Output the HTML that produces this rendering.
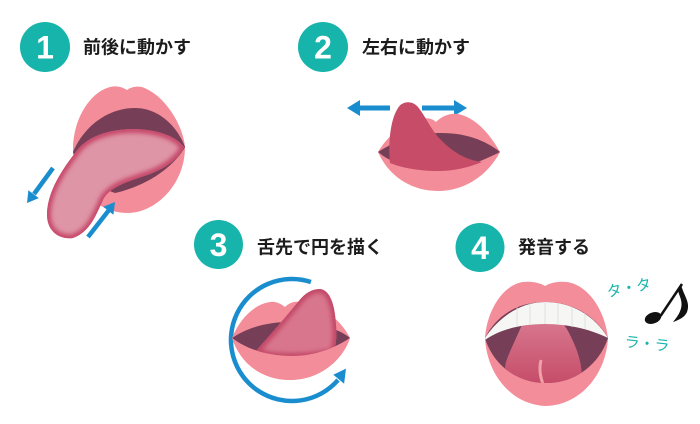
<!DOCTYPE html>
<html><head><meta charset="utf-8"><style>
html,body{margin:0;padding:0;background:#fff;}
svg{display:block;}
.t{font-family:"Liberation Sans","Noto Sans CJK JP",sans-serif;font-size:18px;fill:#1c1c1c;font-weight:bold;}
.n{font-family:"Liberation Sans",sans-serif;font-weight:bold;font-size:32px;fill:#fff;}
.k{font-family:"Liberation Sans","Noto Sans CJK JP",sans-serif;font-size:15px;fill:#17b4ab;}
</style></head><body>
<svg width="700" height="424" viewBox="0 0 700 424" xmlns="http://www.w3.org/2000/svg">
<defs>
<filter id="b3" x="-20%" y="-20%" width="140%" height="140%"><feGaussianBlur stdDeviation="2"/></filter>
<filter id="b2" x="-20%" y="-20%" width="140%" height="140%"><feGaussianBlur stdDeviation="2"/></filter>
<clipPath id="ct1"><path d="M 75,153 C 85,138 105,130 130,129 C 155,129 175,135 184,147 C 178,160 165,168 150,174 C 130,181 110,186 103,200 C 96,215 90,232 73,238 C 58,240 47,230 47,215 C 47,195 58,175 75,153 Z"/></clipPath>
<clipPath id="ct3"><path d="M 255,352 C 270,335 285,318 298,302 C 305,293 312,289 320,289 C 330,290 335,305 336,325 C 337,335 336,345 334,352 C 315,357 290,358 270,356 Z"/></clipPath>
<clipPath id="ci4"><path d="M 485,338 C 495,318 515,302 545,302 C 575,302 597,318 608,338 C 600,362 578,383 546,383 C 514,383 492,362 485,338 Z"/></clipPath>
<linearGradient id="g4" x1="0" y1="0" x2="0" y2="1"><stop offset="0" stop-color="#d8788f"/><stop offset="1" stop-color="#c54b68"/></linearGradient>
</defs>

<!-- headings -->
<circle cx="45" cy="47" r="25" fill="#17b4ab"/>
<text class="n" x="45" y="58.5" text-anchor="middle">1</text>
<text class="t" x="83" y="53.5">前後に動かす</text>

<circle cx="323" cy="47" r="25" fill="#17b4ab"/>
<text class="n" x="323" y="58.5" text-anchor="middle">2</text>
<text class="t" x="362" y="53.5">左右に動かす</text>

<circle cx="218.5" cy="244.5" r="24.5" fill="#17b4ab"/>
<text class="n" x="218.5" y="256" text-anchor="middle">3</text>
<text class="t" x="257" y="253.5">舌先で円を描く</text>

<circle cx="480" cy="247.5" r="24.5" fill="#17b4ab"/>
<text class="n" x="480" y="259" text-anchor="middle">4</text>
<text class="t" x="518" y="253.5">発音する</text>

<!-- Mouth 1 -->
<path d="M 73,152 C 72,120 90,92 110,87 C 118,85 124,88 127,90 C 131,87 136,86 142,87 C 165,95 183,125 185,147 C 185,185 155,213 128,213 C 105,213 90,200 80,185 Z" fill="#f48d9a"/>
<path d="M 73,152 C 85,124 110,108 135,108 C 160,108 178,128 185,147 C 175,165 150,185 115,193 L 80,180 Z" fill="#773f57"/>
<g clip-path="url(#ct1)">
<rect x="40" y="120" width="150" height="125" fill="#de95a6"/>
<path d="M 75,153 C 85,138 105,130 130,129 C 155,129 175,135 184,147 C 178,160 165,168 150,174 C 130,181 110,186 103,200 C 96,215 90,232 73,238 C 58,240 47,230 47,215 C 47,195 58,175 75,153 Z" fill="none" stroke="#c84a6c" stroke-width="8" filter="url(#b3)"/>
</g>
<!-- arrows 1 -->
<line x1="53" y1="168" x2="34" y2="194" stroke="#1a8dcf" stroke-width="4.5"/>
<polygon points="27,203 38.8,198.1 28.4,190.3" fill="#1a8dcf"/>
<line x1="88" y1="237" x2="109" y2="210" stroke="#1a8dcf" stroke-width="4.5"/>
<polygon points="115,202 113.4,214.7 103.2,206.7" fill="#1a8dcf"/>

<!-- Mouth 2 -->
<line x1="390" y1="108" x2="358" y2="108" stroke="#1a8dcf" stroke-width="5"/>
<polygon points="347,108 360,100 360,116" fill="#1a8dcf"/>
<line x1="422" y1="108" x2="456" y2="108" stroke="#1a8dcf" stroke-width="5"/>
<polygon points="467,108 454,100 454,116" fill="#1a8dcf"/>
<path d="M 378,152 C 388,135 405,122 420,119 C 428,117 433,119 436,122 C 442,116 450,113 458,114 C 478,118 492,138 500,152 C 488,175 465,191 438,191 C 410,191 388,175 378,152 Z" fill="#f48d9a"/>
<path d="M 378,152 C 400,138 420,133 442,133 C 465,133 485,140 500,152 C 480,162 460,170 438,170 C 410,170 390,162 378,152 Z" fill="#773f57"/>
<path d="M 390,163 C 388,145 390,120 398,108 C 402,101 412,100 418,107 C 426,117 432,132 442,141 C 452,151 465,160 482,162 C 465,169 450,171 438,171 C 420,171 402,168 390,163 Z" fill="#c64c68"/>

<!-- Mouth 3 -->
<path d="M 310.9,282 A 61 61 0 1 0 338,380" fill="none" stroke="#1a8dcf" stroke-width="4.5"/>
<polygon points="346,368.6 344.1,383.7 333.3,374.7" fill="#1a8dcf"/>
<path d="M 232,338 C 240,318 255,304 270,302 C 276,301 281,304 285,307 C 290,302 296,301 302,302 C 325,306 342,322 350,338 C 342,362 318,380 290,380 C 260,380 240,362 232,338 Z" fill="#f48d9a"/>
<path d="M 232,338 C 250,326 270,322 290,322 C 315,322 338,328 350,338 C 335,348 315,356 292,356 C 265,356 245,348 232,338 Z" fill="#773f57"/>
<g clip-path="url(#ct3)">
<rect x="250" y="285" width="95" height="80" fill="#d8768d"/>
<path d="M 255,352 C 270,335 285,318 298,302 C 305,293 312,289 320,289 C 330,290 335,305 336,325 C 337,335 336,345 334,352 C 315,357 290,358 270,356 Z" fill="none" stroke="#c24a68" stroke-width="8" filter="url(#b2)"/>
</g>
<path d="M 232,338 C 245,348 265,356 292,356 C 315,356 335,348 350,338 C 342,362 318,380 290,380 C 260,380 240,362 232,338 Z" fill="#f48d9a"/>

<!-- Mouth 4 -->
<path d="M 485,338 C 487,310 503,285 523,282 C 533,281 540,283 545,286 C 550,283 557,281 567,282 C 588,285 605,310 608,338 C 606,375 580,405 546,406 C 512,405 487,375 485,338 Z" fill="#f48d9a"/>
<path d="M 485,338 C 495,318 515,302 545,302 C 575,302 597,318 608,338 C 600,362 578,383 546,383 C 514,383 492,362 485,338 Z" fill="#773f57"/>
<g clip-path="url(#ci4)">
<path d="M 523,322 C 518,335 510,350 506,362 C 503,372 508,380 512,382 C 525,385 535,386 546,386 C 560,386 572,383 582,378 C 582,360 575,345 570,335 C 567,328 563,324 560,320 Z" fill="url(#g4)"/>
<path d="M 541,360 C 539,368 540,376 543,384" fill="none" stroke="#f0a2a8" stroke-width="3"/>
<path d="M 485,338 C 498,318 520,302 545,302 C 572,302 595,316 608,338 C 592,330 570,324 545,324 C 520,324 499,330 485,340 Z" fill="#f6f7f4"/>
<g stroke="#dadcd8" stroke-width="0.8">
<line x1="517" y1="305" x2="517" y2="327"/>
<line x1="530" y1="303" x2="530" y2="325"/>
<line x1="545" y1="302" x2="545" y2="324"/>
<line x1="558" y1="303" x2="558" y2="325"/>
<line x1="572" y1="305" x2="572" y2="327"/>
<line x1="585" y1="309" x2="585" y2="329"/>
</g>
</g>

<!-- sounds -->
<text class="k" x="629" y="293" text-anchor="middle" transform="rotate(-11 629 288)">タ・タ</text>
<text class="k" x="647" y="349" text-anchor="middle" transform="rotate(6 647 344)">ラ・ラ</text>
<ellipse cx="653" cy="318" rx="8.5" ry="5.5" transform="rotate(-20 653 318)" fill="#111"/>
<line x1="660.5" y1="316" x2="682" y2="284" stroke="#111" stroke-width="2.5"/>
<path d="M 681,284 C 683,295 691,302 687,312 C 685,317 679,320 673,322 C 679,315 683,308 681,300 C 680,295 677,292 679,288 Z" fill="#111"/>
</svg>
</body></html>
